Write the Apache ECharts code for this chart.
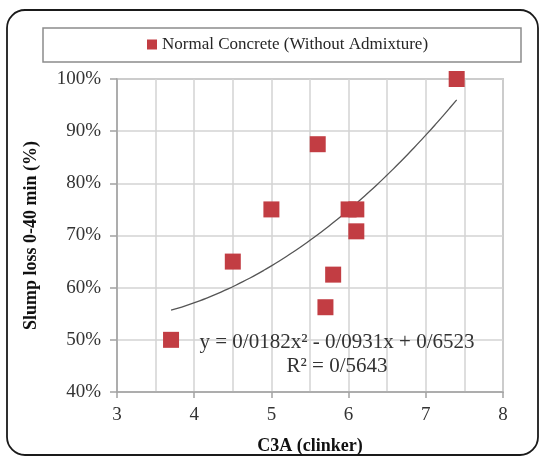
<!DOCTYPE html>
<html>
<head>
<meta charset="utf-8">
<style>
  html, body { margin: 0; padding: 0; background: #fff; }
  #chart { width: 542px; height: 460px; }
</style>
<script src="https://cdn.jsdelivr.net/npm/echarts@6/dist/echarts.min.js"></script>
</head>
<body>
<div id="chart"></div>
<script>
// C3A content of the clinker (x) against slump loss between 0 and 40 min (y)
const seriesName = 'Normal Concrete (Without Admixture)';
const c3a =        [3.7, 4.5, 5.0, 5.6,   6.0,  6.1,  6.1,   5.8,   5.7,    7.4];
const slumpLoss =  [0.50, 0.65, 0.75, 0.875, 0.75, 0.75, 0.708, 0.625, 0.5625, 1.00];

// Second-order polynomial trendline, as printed on the chart: a*x^2 + b*x + c
const trendCoeffs = { a: 0.0182, b: -0.0931, c: 0.6523 };
const trendRange = [3.7, 7.4];
const equationText = 'y = 0/0182x² - 0/0931x + 0/6523';
const r2Text = 'R² = 0/5643';

// axis ranges
const xRange = [3, 8];
const yRange = [0.4, 1.0];

const FONT = "'Liberation Serif', 'Times New Roman', serif";

const points = c3a.map((x, i) => [x, slumpLoss[i]]);

// sample the fitted curve across the data range
const trend = [];
const steps = 40;
for (let i = 0; i <= steps; i++) {
  const x = trendRange[0] + (trendRange[1] - trendRange[0]) * i / steps;
  trend.push([x, trendCoeffs.a * x * x + trendCoeffs.b * x + trendCoeffs.c]);
}

const chart = echarts.init(document.getElementById('chart'), null, { renderer: 'canvas' });

const gridColor = '#d3d3d3';
const frameGray = '#a3a3a3';

chart.setOption({
  animation: false,
  backgroundColor: '#fff',
  grid: { left: 117, right: 39, top: 79, bottom: 67, show: true, borderColor: frameGray, borderWidth: 1.5, backgroundColor: 'transparent' },
  legend: {
    data: [{ name: seriesName, icon: 'rect' }],
    left: 147,
    top: 36,
    itemWidth: 10,
    itemHeight: 10,
    itemGap: 4,
    padding: 0,
    selectedMode: false,
    textStyle: { fontFamily: FONT, fontSize: 17, color: '#262626' }
  },
  xAxis: {
    type: 'value',
    min: xRange[0], max: xRange[1], interval: 1,
    name: 'C3A (clinker)',
    nameLocation: 'middle',
    nameGap: 45,
    nameTextStyle: { fontFamily: FONT, fontSize: 18, fontWeight: 'bold', color: '#111' },
    axisLine: { show: true, lineStyle: { color: frameGray, width: 1.5 } },
    axisTick: { show: true, inside: false, length: 6, lineStyle: { color: frameGray, width: 1.5 } },
    axisLabel: { margin: 14, fontFamily: FONT, fontSize: 19, color: '#333' },
    splitLine: { show: true, lineStyle: { color: gridColor, width: 1.5 } },
    minorTick: { show: false, splitNumber: 2 },
    minorSplitLine: { show: true, lineStyle: { color: gridColor, width: 1.5 } }
  },
  yAxis: {
    type: 'value',
    min: yRange[0], max: yRange[1], interval: 0.1,
    name: 'Slump loss 0-40 min (%)',
    nameLocation: 'middle',
    nameGap: 77,
    nameRotate: 90,
    nameTextStyle: { fontFamily: FONT, fontSize: 18, fontWeight: 'bold', color: '#111' },
    axisLine: { show: true, lineStyle: { color: frameGray, width: 1.5 } },
    axisTick: { show: true, inside: false, length: 7, lineStyle: { color: frameGray, width: 1.5 } },
    axisLabel: {
      margin: 16, fontFamily: FONT, fontSize: 19, color: '#333',
      formatter: v => Math.round(v * 100) + '%'
    },
    splitLine: { show: true, lineStyle: { color: gridColor, width: 1.5 } }
  },
  series: [
    {
      name: 'trend',
      type: 'line',
      data: trend,
      showSymbol: false,
      smooth: true,
      silent: true,
      lineStyle: { color: '#555', width: 1.3 },
      z: 3
    },
    {
      name: seriesName,
      type: 'scatter',
      data: points,
      symbol: 'rect',
      symbolSize: 16,
      itemStyle: { color: '#c23d43', opacity: 1 },
      z: 4
    }
  ],
  graphic: [
    {
      type: 'rect',
      shape: { x: 7, y: 10, width: 531, height: 445, r: 18 },
      style: { fill: 'none', stroke: '#1a1a1a', lineWidth: 1.8 },
      silent: true, z: -1
    },
    {
      type: 'rect',
      shape: { x: 43, y: 28, width: 478, height: 34 },
      style: { fill: 'none', stroke: '#8c8c8c', lineWidth: 1.5 },
      silent: true, z: -1
    },
    {
      type: 'text',
      x: 337, y: 342,
      style: { text: equationText, fontFamily: FONT, fontSize: 21, fill: '#333', align: 'center', verticalAlign: 'middle' },
      z: 5
    },
    {
      type: 'text',
      x: 337, y: 366,
      style: { text: r2Text, fontFamily: FONT, fontSize: 21, fill: '#333', align: 'center', verticalAlign: 'middle' },
      z: 5
    }
  ]
});
</script>
</body>
</html>
